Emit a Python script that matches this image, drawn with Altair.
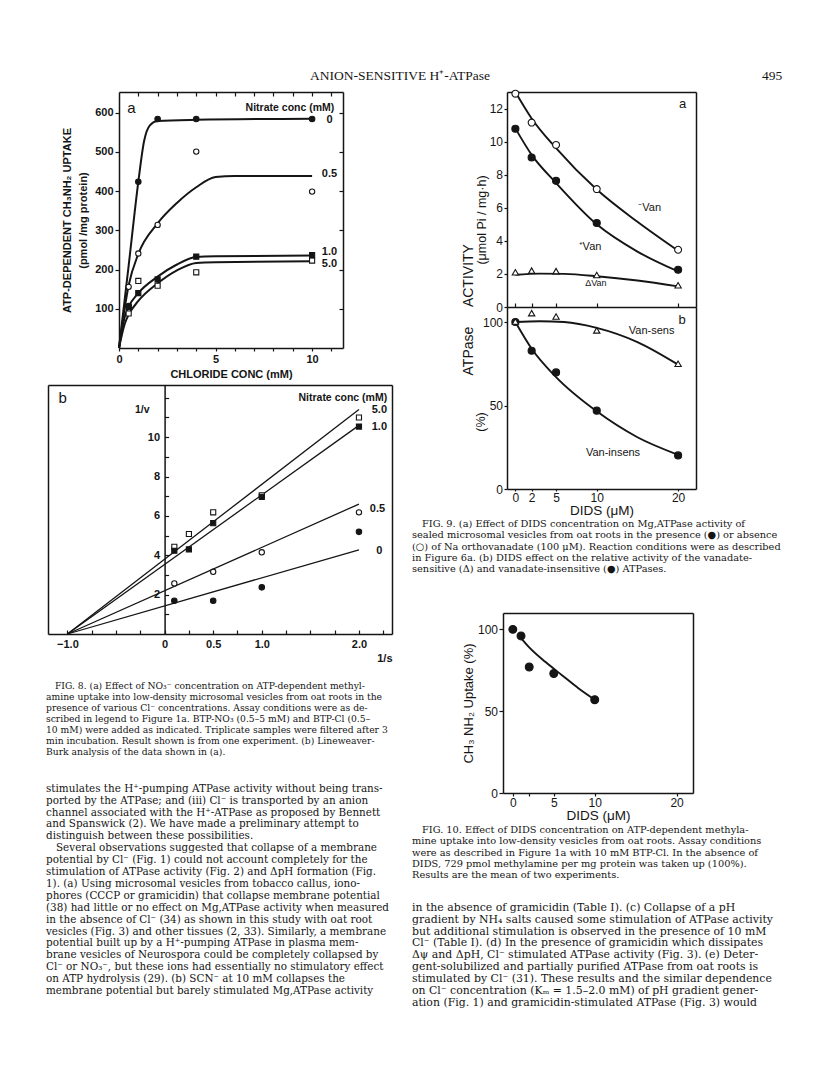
import altair as alt
import pandas as pd

# ---------------- data read from the page ----------------
# Fig. 8a  ATP-dependent CH3NH2 uptake vs chloride conc, per nitrate conc
cl_conc = [0.5, 1, 2, 4, 10]
uptake_n0 = [107, 424, 584, 584, 584]
uptake_n05 = [156, 241, 314, 501, 399]
uptake_n10 = [105, 140, 175, 233, 237]
uptake_n50 = [88, 171, 159, 193, 223]
fit8a_n0_x = [0, 0.5, 1, 1.3, 1.6, 2, 4, 10]
fit8a_n0_y = [0, 210, 424, 528, 568, 579, 582, 585]
fit8a_n05_x = [0, 0.5, 1, 2, 3, 4, 5, 6, 10]
fit8a_n05_y = [0, 160, 240, 318, 370, 410, 436, 439, 439]
fit8a_n10_x = [0, 0.3, 0.5, 1, 2, 3, 4, 5, 10]
fit8a_n10_y = [0, 80, 105, 140, 182, 213, 232, 234, 236]
fit8a_n50_x = [0, 0.3, 0.5, 1, 2, 3, 4, 5, 10]
fit8a_n50_y = [0, 62, 85, 120, 165, 198, 217, 219, 221]
nitrate_labels = ["0", "0.5", "1.0", "5.0"]

# Fig. 8b  Lineweaver-Burk
inv_s_n50 = [0.1, 0.25, 0.5, 1.0, 2.0]
inv_v_n50 = [4.43, 5.08, 6.18, 7.05, 11.0]
inv_s_n10 = [0.1, 0.25, 0.5, 1.0, 2.0]
inv_v_n10 = [4.23, 4.3, 5.63, 6.97, 10.54]
inv_s_n05 = [0.1, 0.5, 1.0, 2.0]
inv_v_n05 = [2.57, 3.16, 4.15, 6.18]
inv_s_n0 = [0.1, 0.5, 1.0, 2.0]
inv_v_n0 = [1.69, 1.69, 2.37, 5.19]
fit8b_x = [-1.0, 2.0]
fit8b_n50 = [0, 11.4]
fit8b_n10 = [0, 10.6]
fit8b_n05 = [0, 6.6]
fit8b_n0 = [0, 4.28]

# Fig. 9  DIDS effect on ATPase activity
dids = [0, 2, 5, 10, 20]
act_minus_van = [12.9, 11.15, 9.8, 7.13, 3.46]
act_plus_van = [10.78, 9.04, 7.63, 5.08, 2.25]
act_delta_van = [2.1, 2.2, 2.17, 1.93, 1.31]
fit9_minus_x = [0, 2, 5, 10, 15, 20]
fit9_minus_y = [13.0, 11.4, 9.6, 7.1, 5.15, 3.4]
fit9_plus_x = [0, 2, 5, 10, 15, 20]
fit9_plus_y = [10.8, 9.2, 7.5, 5.0, 3.35, 2.15]
fit9_delta_x = [0, 3, 6, 10, 15, 20]
fit9_delta_y = [1.95, 2.02, 2.0, 1.86, 1.6, 1.25]
rel_van_sens = [100.3, 105.3, 103.3, 95, 75]
rel_van_insens = [100, 82.8, 69.8, 46.9, 20.1]
fit9b_sens_x = [0, 3, 6, 10, 15, 20]
fit9b_sens_y = [100, 100.5, 100, 96.5, 88, 74.5]
fit9b_insens_x = [0, 2, 5, 10, 15, 20]
fit9b_insens_y = [100, 84, 67, 46.5, 31, 20.5]

# Fig. 10  DIDS effect on methylamine uptake
dids10 = [0, 1, 2, 5, 10]
uptake10 = [100, 96, 77, 73, 57]
fit10_x = [0.7, 2, 4, 6, 8, 10]
fit10_y = [96.5, 89, 80, 72, 64, 57]

# ---------------- page text ----------------
header_title = "ANION-SENSITIVE H⁺-ATPase"
page_number = "495"

cap8_lines = [
    "FIG. 8. (a) Effect of NO₃⁻ concentration on ATP-dependent methyl-",
    "amine uptake into low-density microsomal vesicles from oat roots in the",
    "presence of various Cl⁻ concentrations. Assay conditions were as de-",
    "scribed in legend to Figure 1a. BTP-NO₃ (0.5–5 mM) and BTP-Cl (0.5–",
    "10 mM) were added as indicated. Triplicate samples were filtered after 3",
    "min incubation. Result shown is from one experiment. (b) Lineweaver-",
    "Burk analysis of the data shown in (a).",
]
body_left_lines = [
    "stimulates the H⁺-pumping ATPase activity without being trans-",
    "ported by the ATPase; and (iii) Cl⁻ is transported by an anion",
    "channel associated with the H⁺-ATPase as proposed by Bennett",
    "and Spanswick (2). We have made a preliminary attempt to",
    "distinguish between these possibilities.",
    "Several observations suggested that collapse of a membrane",
    "potential by Cl⁻ (Fig. 1) could not account completely for the",
    "stimulation of ATPase activity (Fig. 2) and ΔpH formation (Fig.",
    "1). (a) Using microsomal vesicles from tobacco callus, iono-",
    "phores (CCCP or gramicidin) that collapse membrane potential",
    "(38) had little or no effect on Mg,ATPase activity when measured",
    "in the absence of Cl⁻ (34) as shown in this study with oat root",
    "vesicles (Fig. 3) and other tissues (2, 33). Similarly, a membrane",
    "potential built up by a H⁺-pumping ATPase in plasma mem-",
    "brane vesicles of Neurospora could be completely collapsed by",
    "Cl⁻ or NO₃⁻, but these ions had essentially no stimulatory effect",
    "on ATP hydrolysis (29). (b) SCN⁻ at 10 mM collapses the",
    "membrane potential but barely stimulated Mg,ATPase activity",
]
cap9_lines = [
    "FIG. 9. (a) Effect of DIDS concentration on Mg,ATPase activity of",
    "sealed microsomal vesicles from oat roots in the presence (●) or absence",
    "(○) of Na orthovanadate (100 μM). Reaction conditions were as described",
    "in Figure 6a. (b) DIDS effect on the relative activity of the vanadate-",
    "sensitive (Δ) and vanadate-insensitive (●) ATPases.",
]
cap10_lines = [
    "FIG. 10. Effect of DIDS concentration on ATP-dependent methyla-",
    "mine uptake into low-density vesicles from oat roots. Assay conditions",
    "were as described in Figure 1a with 10 mM BTP-Cl. In the absence of",
    "DIDS, 729 pmol methylamine per mg protein was taken up (100%).",
    "Results are the mean of two experiments.",
]
body_right_lines = [
    "in the absence of gramicidin (Table I). (c) Collapse of a pH",
    "gradient by NH₄ salts caused some stimulation of ATPase activity",
    "but additional stimulation is observed in the presence of 10 mM",
    "Cl⁻ (Table I). (d) In the presence of gramicidin which dissipates",
    "Δψ and ΔpH, Cl⁻ stimulated ATPase activity (Fig. 3). (e) Deter-",
    "gent-solubilized and partially purified ATPase from oat roots is",
    "stimulated by Cl⁻ (31). These results and the similar dependence",
    "on Cl⁻ concentration (Kₘ = 1.5–2.0 mM) of pH gradient gener-",
    "ation (Fig. 1) and gramicidin-stimulated ATPase (Fig. 3) would",
]

# ---------------- layout helpers ----------------
M = 8              # page margin
W, H = 800, 1057   # drawing canvas
SANS = "Liberation Sans"
SERIF = "Liberation Serif"
TEXT = "DejaVu Serif"
INK = "#151515"


def sx(dom, x0, x1):
    return alt.Scale(domain=dom, range=[x0 - M, x1 - M], nice=False, zero=False)


def sy(dom, y0, y1):
    return alt.Scale(domain=dom, range=[y1 - M, y0 - M], nice=False, zero=False)


def axis(orient, at, **kw):
    if orient in ("left", "top"):
        off = -(at - M)
    elif orient == "right":
        off = (at - M) - W
    else:
        off = (at - M) - H
    opts = dict(orient=orient, offset=off, grid=False, domainColor=INK, domainWidth=1.5,
                tickColor=INK, tickWidth=1.2, labelColor=INK, titleColor=INK,
                labelOverlap=False, labelFlush=False, labelBound=False)
    opts.update(kw)
    return alt.Axis(**opts)


def frame(orient, at):
    return axis(orient, at, ticks=False, labels=False, domain=True, title=None)


def ticks_only(orient, at, values, size=4):
    return axis(orient, at, ticks=True, tickSize=size, labels=False, domain=False,
                values=values, title=None)


def anchor(xs, ys, xaxis, yaxis):
    d = pd.DataFrame({"x": [sum(xs.domain) / 2], "y": [sum(ys.domain) / 2]})
    return alt.Chart(d).mark_point(opacity=0).encode(
        x=alt.X("x:Q", scale=xs, axis=xaxis),
        y=alt.Y("y:Q", scale=ys, axis=yaxis),
    )


def curves(series, xs, ys, width):
    rows = []
    for name, cx, cy in series:
        rows += [{"x": a, "y": b, "s": name} for a, b in zip(cx, cy)]
    return alt.Chart(pd.DataFrame(rows)).mark_line(
        color=INK, strokeWidth=width, interpolate="monotone"
    ).encode(
        x=alt.X("x:Q", scale=xs, axis=None),
        y=alt.Y("y:Q", scale=ys, axis=None),
        detail="s:N",
    )


def points(px, py, xs, ys, shape, fill, size):
    return alt.Chart(pd.DataFrame({"x": px, "y": py})).mark_point(
        shape=shape, filled=True, fill=fill, stroke=INK, strokeWidth=1.1, size=size, opacity=1
    ).encode(
        x=alt.X("x:Q", scale=xs, axis=None),
        y=alt.Y("y:Q", scale=ys, axis=None),
    )


def notes(items, xs, ys, **mk):
    d = pd.DataFrame(items, columns=["t", "x", "y"])
    style = dict(color=INK, font=SANS)
    style.update(mk)
    return alt.Chart(d).mark_text(**style).encode(
        x=alt.X("x:Q", scale=xs, axis=None),
        y=alt.Y("y:Q", scale=ys, axis=None),
        text="t:N",
    )


def text_block(lines, x0, first_baseline, leading, size, indent_rows=(), indent=10):
    n = len(lines)
    d = pd.DataFrame({"row": list(range(n)), "txt": lines,
                      "ind": [1 if i in indent_rows else 0 for i in range(n)]})
    return alt.Chart(d).mark_text(
        align="left", baseline="alphabetic", font=TEXT, fontSize=size, color=INK
    ).encode(
        x=alt.X("ind:Q", scale=alt.Scale(domain=[0, 1], range=[x0 - M, x0 - M + indent],
                                         nice=False, zero=False), axis=None),
        y=alt.Y("row:Q", scale=alt.Scale(domain=[0, n - 1],
                                         range=[first_baseline - M, first_baseline - M + (n - 1) * leading],
                                         nice=False, zero=False), axis=None),
        text="txt:N",
    )


layers = []

# ---------------- header ----------------
hx = alt.Scale(domain=[0, 1], range=[400 - M, 772 - M], nice=False, zero=False)
hy = alt.Scale(domain=[0, 1], range=[80 - M, 70 - M], nice=False, zero=False)
layers.append(
    alt.Chart(pd.DataFrame({"t": [header_title, page_number], "x": [0, 1], "y": [0, 0]}))
    .mark_text(font=SERIF, fontSize=13.5, color=INK, baseline="alphabetic")
    .encode(x=alt.X("x:Q", scale=hx, axis=None), y=alt.Y("y:Q", scale=hy, axis=None), text="t:N")
)

# ---------------- Fig 8a ----------------
X8a = sx([0, 11.6], 119, 343)
Y8a = sy([0, 653], 92, 348)
bold = dict(labelFont=SANS, labelFontWeight="bold", labelFontSize=11,
            titleFont=SANS, titleFontWeight="bold", titleFontSize=11)
layers.append(anchor(
    X8a, Y8a,
    axis("bottom", 348, values=list(range(12)), labelExpr="datum.value % 5 === 0 ? datum.label : ''",
         tickSize=3, labelPadding=2, title="CHLORIDE CONC (mM)", titlePadding=4, **bold),
    axis("left", 119, values=[100, 200, 300, 400, 500, 600], tickSize=4, labelPadding=2,
         title=["ATP-DEPENDENT CH₃NH₂ UPTAKE", "(pmol /mg protein)"], titlePadding=6,
         titleLineHeight=16, **bold),
))
layers.append(anchor(X8a, Y8a, frame("top", 92), frame("right", 343)))
layers.append(anchor(X8a, Y8a, ticks_only("top", 96, list(range(1, 12))),
                     ticks_only("right", 339, [100, 200, 300, 400, 500, 600])))
layers.append(curves([("0", fit8a_n0_x, fit8a_n0_y), ("0.5", fit8a_n05_x, fit8a_n05_y),
                      ("1.0", fit8a_n10_x, fit8a_n10_y), ("5.0", fit8a_n50_x, fit8a_n50_y)],
                     X8a, Y8a, 2.0))
layers.append(points(cl_conc, uptake_n05, X8a, Y8a, "circle", "white", 28))
layers.append(points(cl_conc, uptake_n50, X8a, Y8a, "square", "white", 26))
layers.append(points(cl_conc, uptake_n10, X8a, Y8a, "square", INK, 26))
layers.append(points(cl_conc, uptake_n0, X8a, Y8a, "circle", INK, 30))
layers.append(notes([("a", 0.64, 612)], X8a, Y8a, fontSize=15, baseline="middle", align="center"))
layers.append(notes([("Nitrate conc (mM)", 11.15, 612)], X8a, Y8a, fontSize=10.5,
                    fontWeight="bold", baseline="middle", align="right"))
layers.append(notes(list(zip(nitrate_labels, [10.9, 10.9, 10.9, 10.9], [582, 444, 245, 213])),
                    X8a, Y8a, fontSize=11, fontWeight="bold", baseline="middle", align="center"))

# ---------------- Fig 8b ----------------
X8b = sx([-1.2, 2.34], 48, 392)
Y8b = sy([0, 12.65], 385, 634)
q_ticks = [-1.0, -0.75, -0.5, -0.25, 0.0, 0.25, 0.5, 0.75, 1.0, 1.25, 1.5, 1.75, 2.0, 2.25]
lab8b = ("datum.value === 0 ? '0' : (abs(datum.value + 1) < 0.01 || abs(datum.value - 0.5) < 0.01 || "
         "abs(datum.value - 1) < 0.01 || abs(datum.value - 2) < 0.01) ? format(datum.value, '.1f') : ''")
layers.append(anchor(
    X8b, Y8b,
    axis("bottom", 634, values=q_ticks, labelExpr=lab8b, ticks=False, labelPadding=4,
         title="1/s", titleAnchor="end", titlePadding=3, **bold),
    axis("left", 164.6, values=[2, 4, 6, 8, 10], ticks=False, labelPadding=5, title=None, **bold),
))
layers.append(anchor(X8b, Y8b, frame("top", 385), frame("right", 392)))
layers.append(anchor(X8b, Y8b, ticks_only("bottom", 630, q_ticks), frame("left", 48)))
layers.append(anchor(X8b, Y8b, None, ticks_only("right", 164.6, list(range(1, 13)))))
layers.append(curves([("5.0", fit8b_x, fit8b_n50), ("1.0", fit8b_x, fit8b_n10),
                      ("0.5", fit8b_x, fit8b_n05), ("0", fit8b_x, fit8b_n0)], X8b, Y8b, 1.3))
layers.append(points(inv_s_n50, inv_v_n50, X8b, Y8b, "square", "white", 26))
layers.append(points(inv_s_n10, inv_v_n10, X8b, Y8b, "square", INK, 26))
layers.append(points(inv_s_n05, inv_v_n05, X8b, Y8b, "circle", "white", 28))
layers.append(points(inv_s_n0, inv_v_n0, X8b, Y8b, "circle", INK, 30))
layers.append(notes([("b", -1.05, 12.0)], X8b, Y8b, fontSize=15, baseline="middle", align="center"))
layers.append(notes([("1/v", -0.23, 11.4)], X8b, Y8b, fontSize=10.5, fontWeight="bold",
                    baseline="middle", align="center"))
layers.append(notes([("Nitrate conc (mM)", 2.29, 12.0)], X8b, Y8b, fontSize=10.5,
                    fontWeight="bold", baseline="middle", align="right"))
layers.append(notes(list(zip(["5.0", "1.0", "0.5", "0"], [2.21, 2.21, 2.19, 2.21],
                             [11.4, 10.5, 6.35, 4.2])),
                    X8b, Y8b, fontSize=11, fontWeight="bold", baseline="middle", align="center"))

# ---------------- Fig 9 ----------------
X9 = sx([-1.03, 22.2], 507, 696)
Y9a = sy([0, 13], 92, 307)
Y9b = sy([0, 109], 307, 489)
light = dict(labelFont=SANS, labelFontSize=12, titleFont=SANS, titleFontWeight="normal")
layers.append(anchor(X9, Y9a, frame("top", 92),
                     axis("left", 507, values=[0, 2, 4, 6, 8, 10, 12], tickSize=3, labelPadding=1.5,
                          title=None, **light)))
layers.append(anchor(X9, Y9a, frame("bottom", 307), frame("right", 696)))
layers.append(anchor(X9, Y9a, ticks_only("bottom", 303, dids), None))
layers.append(anchor(X9, Y9b,
                     axis("bottom", 489, values=dids, tickSize=2, labelPadding=1, title="DIDS (μM)",
                          titleFontSize=13.5, titlePadding=0, **light),
                     axis("left", 507, values=[0, 50, 100], tickSize=3, labelPadding=1.5, title=None,
                          **light)))
layers.append(anchor(X9, Y9b, None, frame("right", 696)))
layers.append(curves([("-", fit9_minus_x, fit9_minus_y), ("+", fit9_plus_x, fit9_plus_y),
                      ("d", fit9_delta_x, fit9_delta_y)], X9, Y9a, 1.9))
layers.append(points(dids, act_minus_van, X9, Y9a, "circle", "white", 48))
layers.append(points(dids, act_plus_van, X9, Y9a, "circle", INK, 50))
layers.append(points(dids, act_delta_van, X9, Y9a, "triangle-up", "white", 40))
layers.append(curves([("s", fit9b_sens_x, fit9b_sens_y), ("i", fit9b_insens_x, fit9b_insens_y)],
                     X9, Y9b, 1.9))
layers.append(points(dids, rel_van_insens, X9, Y9b, "circle", INK, 50))
layers.append(points(dids, rel_van_sens, X9, Y9b, "triangle-up", "white", 40))
layers.append(notes([("a", 20.56, 12.27)], X9, Y9a, fontSize=13, baseline="middle", align="center"))
layers.append(notes([("⁻Van", 16.5, 5.99), ("⁺Van", 9.17, 3.63)], X9, Y9a, fontSize=11,
                    baseline="middle", align="center"))
layers.append(notes([("ΔVan", 9.9, 1.45)], X9, Y9a, fontSize=9, baseline="middle", align="center"))
layers.append(notes([("ACTIVITY", -5.75, 1.9)], X9, Y9a, fontSize=14, angle=270,
                    baseline="middle", align="center"))
layers.append(notes([("(μmol Pi / mg·h)", -4.14, 5.26)], X9, Y9a, fontSize=12.5, angle=270,
                    baseline="middle", align="center"))
layers.append(notes([("b", 20.5, 101.2)], X9, Y9b, fontSize=13, baseline="middle", align="center"))
layers.append(notes([("Van-sens", 16.75, 94.6), ("Van-insens", 12.0, 21.6)], X9, Y9b, fontSize=11,
                    baseline="middle", align="center"))
layers.append(notes([("ATPase", -5.75, 82.6)], X9, Y9b, fontSize=14, angle=270,
                    baseline="middle", align="center"))
layers.append(notes([("(%)", -4.2, 40.1)], X9, Y9b, fontSize=12.5, angle=270,
                    baseline="middle", align="center"))

# ---------------- Fig 10 ----------------
X10 = sx([-1.2, 22.0], 503, 693)
Y10 = sy([0, 110], 613, 793)
layers.append(anchor(
    X10, Y10,
    axis("bottom", 793, values=[0, 2, 5, 10, 20], labelExpr="datum.value === 2 ? '' : datum.label",
         tickSize=3, labelPadding=1, title="DIDS (μM)", titleFontSize=13.5, titlePadding=0, **light),
    axis("left", 503, values=[0, 50, 100], tickSize=4, labelPadding=1.5,
         title="CH₃ NH₂ Uptake (%)", titleFontSize=13, titlePadding=2, **light),
))
layers.append(anchor(X10, Y10, frame("top", 613), frame("right", 693)))
layers.append(curves([("f", fit10_x, fit10_y)], X10, Y10, 1.9))
layers.append(points(dids10, uptake10, X10, Y10, "circle", INK, 62))

# ---------------- text columns ----------------
layers.append(text_block(cap8_lines, 46, 689, 11, 9.2, indent_rows=(0,), indent=9))
layers.append(text_block(body_left_lines, 46, 791.7, 11.9, 10.4, indent_rows=(5,), indent=10))
layers.append(text_block(cap9_lines, 412, 527, 11.3, 9.8, indent_rows=(0,), indent=10))
layers.append(text_block(cap10_lines, 412, 833, 11.3, 9.8, indent_rows=(0,), indent=10))
layers.append(text_block(body_right_lines, 412, 910.7, 11.9, 10.9))

chart = (
    alt.layer(*layers)
    .resolve_scale(x="independent", y="independent")
    .properties(width=W, height=H, padding=0, autosize=alt.AutoSizeParams(type="none"))
    .configure_view(strokeWidth=0)
)

chart.save("out.html", embed_options={"renderer": "svg", "actions": False})
